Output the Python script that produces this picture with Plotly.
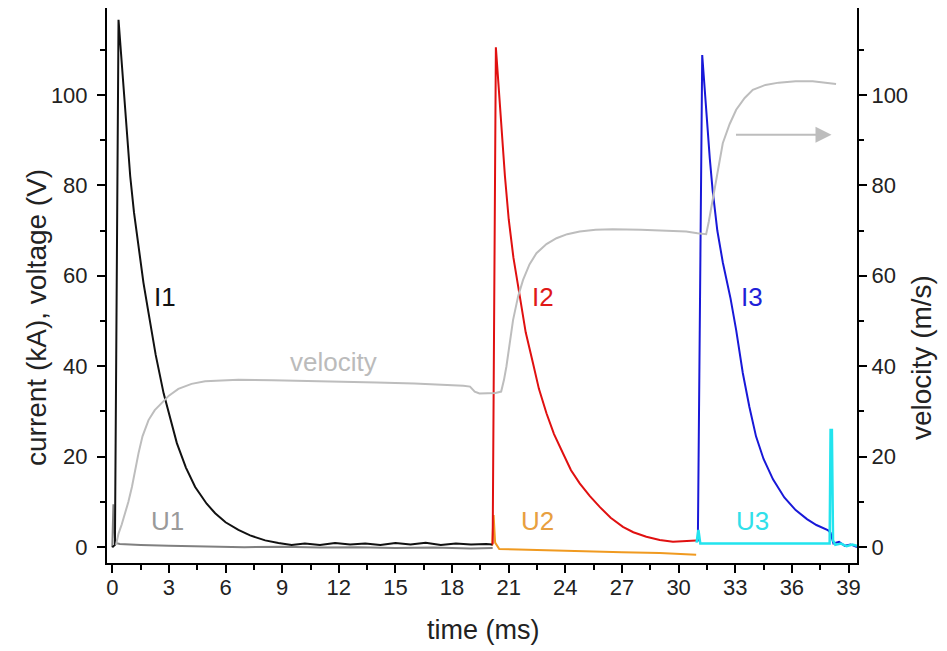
import plotly.graph_objects as go

# ---- data ----
i1_t = [0.0, 0.14, 0.33, 0.5, 0.7, 0.95, 1.15, 1.39, 1.65, 1.92, 2.3, 2.72, 3.05, 3.42, 3.9, 4.39, 5.0, 5.45,
        6.0, 6.68, 7.3, 8.1, 8.8, 9.5, 10.2, 11.0, 11.8, 12.6, 13.4, 14.2, 15.0, 15.8, 16.6, 17.4, 18.2,
        19.0, 19.8, 20.15]
i1_v = [0.0, 0.5, 116.6, 107.5, 96.0, 82.0, 74.0, 66.4, 58.5, 51.8, 42.5, 34.0, 28.5, 23.0, 17.6, 13.3, 9.6,
        7.5, 5.5, 3.8, 2.6, 1.5, 0.9, 0.5, 0.8, 0.5, 0.9, 0.6, 0.8, 0.5, 0.9, 0.6, 1.0, 0.5, 0.8,
        0.6, 0.7, 0.6]

u1_t = [0.0, 0.06, 0.14, 0.22, 0.4, 0.8, 1.5, 3.0, 5.0, 7.0, 9.0, 11.0, 13.0, 15.0, 17.0, 19.0, 20.15]
u1_v = [0.0, 9.5, 2.0, 0.9, 0.7, 0.6, 0.5, 0.3, 0.2, 0.0, 0.1, -0.1, 0.0, -0.2, -0.1, -0.3, -0.2]

i2_t = [20.12, 20.15, 20.32, 20.55, 20.8, 21.0, 21.25, 21.59, 21.9, 22.29, 22.6, 23.0, 23.4, 23.88, 24.3,
        24.76, 25.3, 25.82, 26.4, 27.05, 27.6, 28.29, 29.0, 29.7, 30.3, 30.93]
i2_v = [0.6, 0.8, 110.5, 96.0, 82.0, 72.5, 64.0, 55.4, 47.5, 40.6, 35.0, 29.6, 25.0, 20.7, 17.0,
        14.1, 11.3, 8.9, 6.5, 4.5, 3.3, 2.3, 1.6, 1.2, 1.4, 1.5]

u2_t = [20.12, 20.2, 20.28, 20.5, 21.5, 23.0, 25.0, 27.0, 29.0, 30.5, 30.93]
u2_v = [0.3, 7.1, 1.0, -0.4, -0.5, -0.7, -0.9, -1.1, -1.3, -1.5, -1.7]

i3_t = [30.93, 31.02, 31.25, 31.45, 31.65, 31.8, 32.05, 32.34, 32.75, 33.05, 33.4, 33.75, 34.1, 34.5, 35.0,
        35.6, 36.2, 36.8, 37.3, 37.9, 38.05, 38.2, 38.5, 38.8, 39.1, 39.45]
i3_v = [1.5, 1.5, 108.8, 97.0, 86.0, 79.0, 70.0, 63.0, 55.0, 48.0, 38.5, 31.0, 24.5, 19.5, 15.0,
        11.0, 8.2, 6.2, 4.9, 3.8, 3.2, 0.8, 1.2, 0.3, 0.6, 0.0]

u3_t = [30.95, 31.05, 31.15, 31.3, 33.0, 35.0, 37.0, 38.0, 38.05, 38.12, 38.18, 38.3, 38.6, 38.9, 39.2, 39.45]
u3_v = [1.0, 3.8, 0.8, 0.8, 0.8, 0.8, 0.8, 0.8, 25.9, 25.9, 1.5, 0.5, 0.8, 0.2, 0.6, 0.3]

vel_t = [0.2, 0.33, 0.5, 0.69, 0.85, 1.04, 1.2, 1.39, 1.6, 1.92, 2.25, 2.63, 3.0, 3.5, 4.2, 4.92, 5.8, 6.68,
         8.5, 10.2, 12.0, 14.0, 16.0, 17.5, 18.6, 18.95, 19.2, 19.45, 20.3, 20.6, 20.75, 20.88, 21.05, 21.23,
         21.5, 21.76, 22.1, 22.47, 23.0, 23.53, 24.1, 24.76, 25.6, 26.5, 28.0, 29.2, 30.4, 31.0, 31.46,
         31.6, 31.8, 32.05, 32.34, 32.7, 33.05, 33.5, 33.93, 34.6, 35.3, 36.2, 37.1, 38.34]
vel_v = [0.5, 3.0, 5.0, 7.5, 10.0, 13.3, 17.0, 20.8, 24.5, 28.1, 30.3, 32.0, 33.5, 35.0, 36.1, 36.7, 36.9, 37.0,
         36.9, 36.7, 36.6, 36.4, 36.2, 36.0, 35.7, 35.5, 34.4, 34.0, 34.1, 34.4, 37.0, 40.0, 45.0, 50.2,
         55.5, 59.1, 62.5, 65.0, 67.0, 68.3, 69.2, 69.8, 70.2, 70.3, 70.2, 70.0, 69.8, 69.4, 69.2,
         72.0, 76.8, 83.0, 89.3, 93.5, 96.7, 99.3, 101.1, 102.2, 102.7, 103.0, 103.0, 102.4]

x_ticks = [0, 3, 6, 9, 12, 15, 18, 21, 24, 27, 30, 33, 36, 39]
y_ticks = [0, 20, 40, 60, 80, 100]
y_minor = [10, 30, 50, 70, 90, 110]

labels = [("I1", 2.8, 55.3, "#111111"), ("U1", 2.9, 5.7, "#9a9a9a"), ("velocity", 11.7, 41.0, "#bbbbbb"),
          ("I2", 22.8, 55.3, "#e01818"), ("U2", 22.5, 5.7, "#e8a040"), ("I3", 33.9, 55.3, "#1f1fd8"),
          ("U3", 33.9, 5.7, "#30e0ea")]

FONT = "Liberation Sans, Arial, sans-serif"
TXT = "#222222"

L, R, T, B, W, H = 107, 90, 8, 88, 947, 651
pw, ph = W - L - R, H - T - B

fig = go.Figure()
fig.add_trace(go.Scatter(x=vel_t, y=vel_v, yaxis="y2", mode="lines", line=dict(color="#bdbdbd", width=2),
                         showlegend=False))
fig.add_trace(go.Scatter(x=u1_t, y=u1_v, mode="lines", line=dict(color="#808080", width=2), showlegend=False))
fig.add_trace(go.Scatter(x=u2_t, y=u2_v, mode="lines", line=dict(color="#f09a20", width=2), showlegend=False))
fig.add_trace(go.Scatter(x=i1_t, y=i1_v, mode="lines", line=dict(color="#111111", width=2), showlegend=False))
fig.add_trace(go.Scatter(x=i2_t, y=i2_v, mode="lines", line=dict(color="#e01010", width=2), showlegend=False))
fig.add_trace(go.Scatter(x=i3_t, y=i3_v, mode="lines", line=dict(color="#1818d8", width=2), showlegend=False))
fig.add_trace(go.Scatter(x=u3_t, y=u3_v, mode="lines", line=dict(color="#22e4ee", width=2.5), showlegend=False))

for txt, x, y, c in labels:
    fig.add_annotation(x=x, y=y, text=txt, showarrow=False, font=dict(family=FONT, size=26, color=c))

fig.add_annotation(x=38.1, y=91.2, ax=32.96, ay=91.2, xref="x", yref="y", axref="x", ayref="y",
                   text="", showarrow=True, arrowhead=2, arrowsize=1.6, arrowwidth=2, arrowcolor="#bdbdbd")

# axis titles, placed by pixel centre converted to paper coordinates
titles = [("time (ms)", 483, 630, 0, 27), ("current (kA), voltage (V)", 36, 318, -90, 28),
          ("velocity (m/s)", 921, 358, -90, 28)]
for txt, px, py, ang, sz in titles:
    fig.add_annotation(x=(px - L) / pw, y=(H - B - py) / ph, xref="paper", yref="paper", text=txt,
                       showarrow=False, textangle=ang, xanchor="center", yanchor="middle",
                       font=dict(family=FONT, size=sz, color=TXT))

yrange = [-3.5, 119.2]
common = dict(showline=True, linecolor="black", linewidth=2, ticks="outside", ticklen=8, tickwidth=2,
              tickcolor="black", showgrid=False, zeroline=False,
              tickfont=dict(family=FONT, size=22, color=TXT))
minor_y = dict(tickvals=y_minor, ticklen=5, tickwidth=2, ticks="outside", tickcolor="black")
fig.update_layout(
    width=W, height=H, plot_bgcolor="white", paper_bgcolor="white",
    margin=dict(l=L, r=R, t=T, b=B),
    xaxis=dict(range=[-0.28, 39.45], tickvals=x_ticks, ticklabelstandoff=-4, **common,
               minor=dict(tickvals=[v + 1.5 for v in x_ticks], ticklen=5, tickwidth=2, ticks="outside",
                          tickcolor="black")),
    yaxis=dict(range=yrange, tickvals=y_ticks, ticklabelstandoff=5, **common, minor=minor_y),
    yaxis2=dict(range=yrange, tickvals=y_ticks, overlaying="y", side="right", ticklabelstandoff=0,
                **common, minor=minor_y),
)

fig.write_html("out.html")
